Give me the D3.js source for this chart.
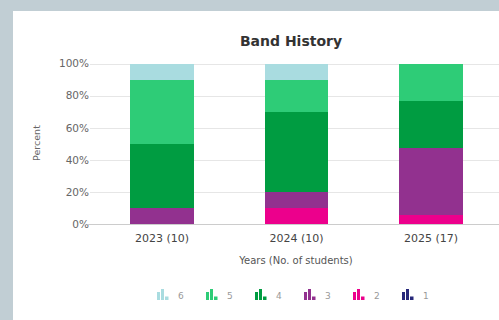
<!DOCTYPE html>
<html>
<head>
<meta charset="utf-8">
<script src="https://cdn.jsdelivr.net/npm/d3@7"></script>
<style>
  html, body { margin: 0; padding: 0; background: #c1ced4; }
  #chart { position: absolute; left: 13px; top: 11px; width: 486px; height: 309px; background: #fff; }
  svg { display: block; font-family: "DejaVu Sans", sans-serif; }
</style>
</head>
<body>
<div id="chart"></div>
<script>
// DATA (student counts per band, per year)
const years = ["2023 (10)", "2024 (10)", "2025 (17)"];
const bandKeys = ["1", "2", "3", "4", "5", "6"];
const band1 = [0, 0, 0];
const band2 = [0, 1, 1];
const band3 = [1, 1, 7];
const band4 = [4, 5, 5];
const band5 = [4, 2, 4];
const band6 = [1, 1, 0];
const yTicks = [0, 0.2, 0.4, 0.6, 0.8, 1];
const legendOrder = ["6", "5", "4", "3", "2", "1"];

const colors = {
    "1": "#27287a",
    "2": "#ec008c",
    "3": "#92318f",
    "4": "#009c41",
    "5": "#2ecc77",
    "6": "#a9dce0"
};

const bandSeries = { "1": band1, "2": band2, "3": band3, "4": band4, "5": band5, "6": band6 };
const table = years.map((year, i) => {
    const row = { year };
    bandKeys.forEach(k => row[k] = bandSeries[k][i]);
    return row;
});

// DIMENSIONS (svg coords are page coords minus panel offset)
const ox = 13, oy = 11;
const width = 486, height = 309;

const svg = d3.select('#chart')
    .append('svg')
        .attr('width', width)
        .attr('height', height);

const g = svg.append('g')
    .attr('transform', `translate(${-ox}, ${-oy})`);

const x = d3.scaleBand()
    .domain(years)
    .range([94.75, 498.25])
    .paddingInner(0.53)
    .paddingOuter(0.265);

const y = d3.scaleLinear()
    .domain([0, 1])
    .range([224, 63.5]);

//GRID
g.append('g')
    .selectAll('line')
    .data(yTicks.filter(t => t > 0))
    .join('line')
        .attr('x1', 90)
        .attr('x2', 499)
        .attr('y1', d => Math.round(y(d)) + 0.5)
        .attr('y2', d => Math.round(y(d)) + 0.5)
        .attr('stroke', '#e6e6e6')
        .attr('stroke-width', 1);

//Y AXIS
const yAxisG = g.append('g')
    .attr('transform', 'translate(89, 0)')
    .call(d3.axisLeft(y).tickValues(yTicks).tickFormat(d3.format('.0%')).tickSize(0).tickPadding(0));
yAxisG.select('.domain').remove();
yAxisG.selectAll('text')
    .attr('fill', '#666')
    .attr('font-size', 10.5)
    .attr('font-family', '"DejaVu Sans", sans-serif');

g.append('text')
    .attr('transform', 'translate(40, 143) rotate(-90)')
    .attr('text-anchor', 'middle')
    .attr('fill', '#666')
    .attr('font-size', 9.5)
    .text('Percent');

//BARS
const stacked = d3.stack().keys(bandKeys).offset(d3.stackOffsetExpand)(table);

g.append('g')
    .attr('shape-rendering', 'crispEdges')
    .selectAll('g')
    .data(stacked)
    .join('g')
        .attr('fill', d => colors[d.key])
    .selectAll('rect')
    .data(d => d)
    .join('rect')
        .attr('x', d => x(d.data.year))
        .attr('width', x.bandwidth())
        .attr('y', d => Math.round(y(d[1])))
        .attr('height', d => Math.round(y(d[0])) - Math.round(y(d[1])));

//X AXIS baseline
g.append('line')
    .attr('x1', 88).attr('x2', 499)
    .attr('y1', 224.5).attr('y2', 224.5)
    .attr('stroke', '#cccccc')
    .attr('stroke-width', 1);

const xAxisG = g.append('g')
    .attr('transform', 'translate(0, 224)')
    .call(d3.axisBottom(x).tickSize(0).tickPadding(10));
xAxisG.select('.domain').remove();
xAxisG.selectAll('text')
    .attr('fill', '#444')
    .attr('font-size', 11)
    .attr('font-family', '"DejaVu Sans", sans-serif');

g.append('text')
    .attr('x', 296)
    .attr('y', 264)
    .attr('text-anchor', 'middle')
    .attr('fill', '#555')
    .attr('font-size', 10)
    .text('Years (No. of students)');

//TITLE
g.append('text')
    .attr('x', 291)
    .attr('y', 46)
    .attr('text-anchor', 'middle')
    .attr('fill', '#333')
    .attr('font-size', 14)
    .attr('font-weight', 'bold')
    .text('Band History');

//LEGEND
const legend = g.append('g')
    .selectAll('g')
    .data(legendOrder)
    .join('g')
        .attr('transform', (d, i) => `translate(${157 + i * 49}, 289)`);

const iconBars = [[0, 3, 3, 8], [4, 0, 3, 11], [8, 7.5, 3.5, 3.5]];
legend.selectAll('rect')
    .data(d => iconBars.map(b => ({ key: d, b })))
    .join('rect')
        .attr('x', d => d.b[0])
        .attr('y', d => d.b[1])
        .attr('width', d => d.b[2])
        .attr('height', d => d.b[3])
        .attr('fill', d => colors[d.key]);

legend.append('text')
    .attr('x', 21)
    .attr('y', 10)
    .attr('fill', '#999')
    .attr('font-size', 9)
    .text(d => d);
</script>
</body>
</html>
